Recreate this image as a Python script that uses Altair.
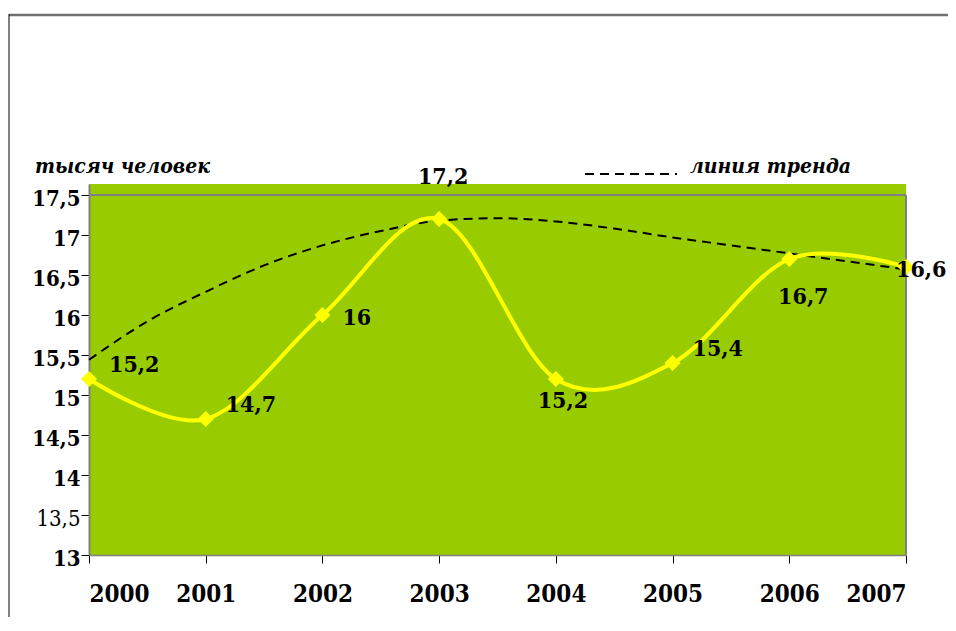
import altair as alt
import pandas as pd

years = [2000, 2001, 2002, 2003, 2004, 2005, 2006, 2007]
values = [15.2, 14.7, 16.0, 17.2, 15.2, 15.4, 16.7, 16.6]
labels = ["15,2", "14,7", "16", "17,2", "15,2", "15,4", "16,7", "16,6"]

trend_x = [2000, 2000.5, 2001, 2001.5, 2002, 2002.5, 2003, 2003.5,
           2004, 2004.5, 2005, 2005.5, 2006, 2006.5, 2007]
trend_y = [15.44, 15.92, 16.29, 16.62, 16.87, 17.05, 17.18, 17.21,
           17.17, 17.08, 16.97, 16.87, 16.77, 16.67, 16.57]

y_ticks = [13, 13.5, 14, 14.5, 15, 15.5, 16, 16.5, 17, 17.5]

FONT = "DejaVu Serif Condensed, DejaVu Serif, serif"
GREEN = "#99CC00"
YELLOW = "#FFFF00"

df = pd.DataFrame({"year": years, "value": values, "label": labels})
tdf = pd.DataFrame({"year": trend_x, "value": trend_y})

xs = alt.Scale(domain=[2000, 2007], nice=False, zero=False)
ys = alt.Scale(domain=[13, 17.6375], nice=False, zero=False)

x_axis = alt.Axis(values=years, format="d", title=None, grid=False,
                  labelFont=FONT, labelFontSize=24, labelFontWeight="bold",
                  labelColor="black", labelPadding=19, tickSize=8,
                  tickColor="black", domainColor="#808080", domainWidth=1.5,
                  labelBaseline="top", labelOverlap=False)
y_axis = alt.Axis(values=y_ticks, title=None, grid=False,
                  labelExpr="replace(format(datum.value, ''), '.', ',')",
                  labelFont=FONT, labelFontSize=22,
                  labelFontWeight={"condition": {"test": "datum.value == 13.5", "value": "normal"}, "value": "bold"},
                  labelColor="black", labelPadding=1, tickSize=8,
                  tickColor="black", domainColor="#808080", domainWidth=2,
                  labelOffset=3, labelOverlap=False)

base = alt.Chart(df)

trend = alt.Chart(tdf).mark_line(color="black", strokeWidth=2, strokeDash=[9, 6],
                                 interpolate="monotone").encode(
    x=alt.X("year:Q", scale=xs, axis=x_axis),
    y=alt.Y("value:Q", scale=ys, axis=y_axis),
)

line = base.mark_line(color=YELLOW, strokeWidth=4, interpolate="cardinal").encode(
    x=alt.X("year:Q", scale=xs),
    y=alt.Y("value:Q", scale=ys),
)

pts = base.mark_point(shape="diamond", filled=True, color=YELLOW, size=260, opacity=1).encode(
    x=alt.X("year:Q", scale=xs),
    y=alt.Y("value:Q", scale=ys),
)

top_rule = alt.Chart(pd.DataFrame({"v": [17.5]})).mark_rule(color="#808080", strokeWidth=2).encode(
    y=alt.Y("v:Q", scale=ys)
)
right_rule = alt.Chart(pd.DataFrame({"x": [2007], "y1": [13], "y2": [17.5]})).mark_rule(
    color="#808080", strokeWidth=2).encode(
    x=alt.X("x:Q", scale=xs), y=alt.Y("y1:Q", scale=ys), y2="y2:Q"
)


def lab(yrs, dx, dy, align):
    return base.transform_filter(
        alt.FieldOneOfPredicate(field="year", oneOf=yrs)
    ).mark_text(font=FONT, fontSize=23, fontWeight="bold", color="black",
                align=align, baseline="middle", dx=dx, dy=dy).encode(
        x=alt.X("year:Q", scale=xs),
        y=alt.Y("value:Q", scale=ys),
        text="label:N",
    )


texts = [
    lab([2000, 2001, 2005], 20, -14, "left"),
    lab([2002], 20, 3, "left"),
    lab([2003], 4, -42, "center"),
    lab([2004], 7, 22, "center"),
    lab([2006], 14, 38, "center"),
    lab([2007], -10, 3, "left"),
]

one = pd.DataFrame({"a": [0]})
title_l = alt.Chart(one).mark_text(text="тысяч человек", font=FONT, fontSize=21,
                                   fontWeight="bold", fontStyle="italic", align="left",
                                   baseline="middle", color="black").encode(
    x=alt.value(-54), y=alt.value(-17))
title_r = alt.Chart(one).mark_text(text="линия тренда", font=FONT, fontSize=21,
                                   fontWeight="bold", fontStyle="italic", align="left",
                                   baseline="middle", color="black").encode(
    x=alt.value(601), y=alt.value(-17))
leg_dash = alt.Chart(one).mark_rule(color="black", strokeWidth=2, strokeDash=[9, 6]).encode(
    x=alt.value(496), x2=alt.value(588), y=alt.value(-10))

frame_top = alt.Chart(one).mark_rule(color="#707070", strokeWidth=2.5).encode(
    x=alt.value(-80), x2=alt.value(860), y=alt.value(-169))
frame_left = alt.Chart(one).mark_rule(color="black", strokeWidth=1).encode(
    x=alt.value(-80), y=alt.value(-170), y2=alt.value(440))

chart = alt.layer(
    trend, top_rule, right_rule, line, pts, *texts, title_l, title_r, leg_dash,
    frame_top, frame_left
).properties(
    width=817, height=371,
    autosize=alt.AutoSizeParams(type="none"),
    padding={"left": 81, "top": 176, "right": 42, "bottom": 62},
).configure_view(fill=GREEN, stroke=None)

chart.save("out.html", embed_options={"renderer": "svg", "actions": False})
